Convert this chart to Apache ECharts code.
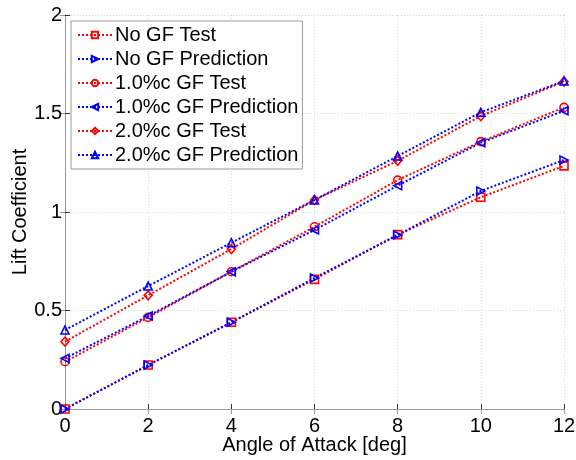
<!DOCTYPE html>
<html>
<head>
<meta charset="utf-8">
<script src="https://cdn.jsdelivr.net/npm/echarts@6/dist/echarts.min.js"></script>
<style>
  html, body { margin: 0; padding: 0; background: #fff; }
  #chart { width: 576px; height: 460px; }
</style>
</head>
<body>
<div id="chart"></div>
<script>
// Angle of attack (deg)
const alpha = [0, 2, 4, 6, 8, 10, 12];

// Lift coefficient, measured and predicted
const noGfTest = [0.00, 0.223, 0.44, 0.658, 0.885, 1.075, 1.234];
const noGfPred = [0.00, 0.223, 0.44, 0.665, 0.883, 1.107, 1.264];
const gf1Test  = [0.24, 0.465, 0.697, 0.925, 1.162, 1.357, 1.531];
const gf1Pred  = [0.257, 0.472, 0.697, 0.909, 1.134, 1.352, 1.514];
const gf2Test  = [0.342, 0.577, 0.812, 1.061, 1.26, 1.487, 1.662];
const gf2Pred  = [0.401, 0.624, 0.844, 1.061, 1.284, 1.506, 1.665];

const xTicks = [0, 2, 4, 6, 8, 10, 12];
const yTicks = [0, 0.5, 1, 1.5, 2];

const RED = '#ff0000';
const BLUE = '#0000ff';
const FONT = 'Liberation Sans';

function pairs(ys) { return alpha.map((a, i) => [a, ys[i]]); }

function series(name, ys, color, symbol, rotate) {
  return {
    name: name,
    type: 'line',
    data: pairs(ys),
    symbol: symbol,
    symbolSize: symbol === 'diamond' ? [8, 9] : 8,
    symbolRotate: rotate || 0,
    showAllSymbol: true,
    lineStyle: { color: color, width: 2, type: [2, 2] },
    itemStyle: { color: 'rgba(255,255,255,0)', borderColor: color, borderWidth: 1.6 },
    emphasis: { disabled: true },
    animation: false
  };
}

const chart = echarts.init(document.getElementById('chart'), null, { renderer: 'canvas' });

const textStyle = { color: '#000', fontFamily: FONT, fontSize: 20 };

chart.setOption({
  backgroundColor: '#fff',
  animation: false,
  grid: { left: 65, right: 12, top: 15, bottom: 51, containLabel: false, outerBoundsMode: 'none' },
  legend: {
    orient: 'vertical',
    left: 71,
    top: 21,
    padding: [4, 4, 4, 6],
    itemGap: 4,
    itemWidth: 34,
    itemHeight: 8,
    backgroundColor: '#fff',
    borderColor: '#999',
    borderWidth: 1,
    borderRadius: 0,
    textStyle: { color: '#000', fontFamily: FONT, fontSize: 20, lineHeight: 20, padding: [0, 0, 0, -2] },
    data: ['No GF Test', 'No GF Prediction', '1.0%c GF Test', '1.0%c GF Prediction', '2.0%c GF Test', '2.0%c GF Prediction']
  },
  xAxis: [{
    type: 'value', min: 0, max: 12, interval: 2,
    name: 'Angle of Attack [deg]', nameLocation: 'middle', nameGap: 26, nameMoveOverlap: false,
    nameTextStyle: textStyle,
    axisLine: { lineStyle: { color: '#333', width: 1 } },
    axisTick: { inside: true, length: 5, lineStyle: { color: '#333' } },
    axisLabel: Object.assign({ margin: 7, formatter: v => xTicks.includes(v) ? String(v) : '' }, textStyle),
    splitLine: { show: true, lineStyle: { color: '#d8d8d8', type: [1, 2] } }
  }, {
    type: 'value', position: 'top', min: 0, max: 12, interval: 2,
    axisLine: { show: true, lineStyle: { color: '#999' } },
    axisTick: { inside: true, length: 5, lineStyle: { color: '#999' } },
    axisLabel: { show: false }, splitLine: { show: false }
  }],
  yAxis: [{
    type: 'value', min: 0, max: 2, interval: 0.5,
    name: 'Lift Coefficient', nameLocation: 'middle', nameGap: 35, nameRotate: 90, nameMoveOverlap: false,
    nameTextStyle: textStyle,
    axisLine: { show: true, lineStyle: { color: '#333', width: 1 } },
    axisTick: { show: true, inside: true, length: 5, lineStyle: { color: '#333' } },
    axisLabel: Object.assign({ margin: 3, formatter: v => yTicks.includes(v) ? String(v) : '' }, textStyle),
    splitLine: { show: true, lineStyle: { color: '#d8d8d8', type: [1, 2] } }
  }, {
    type: 'value', position: 'right', min: 0, max: 2, interval: 0.5,
    axisLine: { show: true, lineStyle: { color: '#999' } },
    axisTick: { show: true, inside: true, length: 5, lineStyle: { color: '#999' } },
    axisLabel: { show: false }, splitLine: { show: false }
  }],
  series: [
    series('No GF Test', noGfTest, RED, 'rect'),
    series('No GF Prediction', noGfPred, BLUE, 'triangle', -90),
    series('1.0%c GF Test', gf1Test, RED, 'circle'),
    series('1.0%c GF Prediction', gf1Pred, BLUE, 'triangle', 90),
    series('2.0%c GF Test', gf2Test, RED, 'diamond'),
    series('2.0%c GF Prediction', gf2Pred, BLUE, 'triangle')
  ]
});
</script>
</body>
</html>
